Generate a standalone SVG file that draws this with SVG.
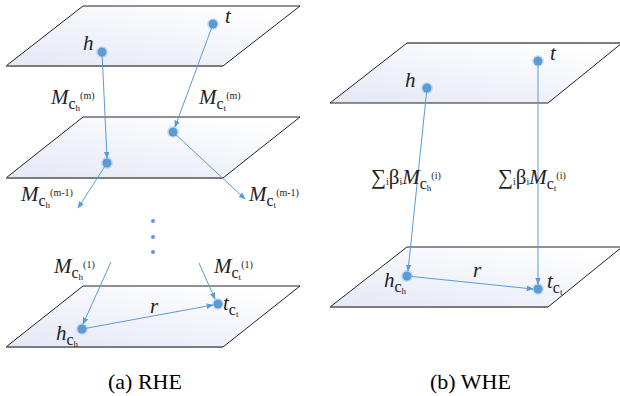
<svg xmlns="http://www.w3.org/2000/svg" width="620" height="396" viewBox="0 0 620 396">
<style>
.plane{stroke:#222;stroke-width:1;fill:url(#pg)}
.edge{stroke:#777;stroke-width:1.5}
.dot{fill:#5b9bd5}
.halo{fill:#5b9bd5;opacity:0.25}
.arr{stroke:#5b9bd5;stroke-width:1;fill:none;marker-end:url(#ah)}
text{font-family:"Liberation Serif","Times New Roman",serif;fill:#222}
.it{font-style:italic}
.big{font-size:21px}
.sub{font-size:16px}
.ss{font-size:9px}
.sup{font-size:10px}
.cap{font-size:22px;fill:#000}
</style>
<defs>
<linearGradient id="pg" x1="0" y1="1" x2="0.8" y2="0">
<stop offset="0" stop-color="#e4e8f6"/>
<stop offset="1" stop-color="#ffffff"/>
</linearGradient>
<marker id="ah" viewBox="0 0 10 10" refX="9" refY="5" markerWidth="7" markerHeight="7" orient="auto" markerUnits="userSpaceOnUse">
<path d="M0,1 L10,5 L0,9 Z" fill="#5b9bd5"/>
</marker>
</defs>

<g id="planeL1"><polygon class="plane" points="83,6 300,6 223,66 6,66"/><line class="edge" x1="6" y1="66" x2="223" y2="66"/></g>
<g id="planeL2"><polygon class="plane" points="83,117 300,117 223,178 6,178"/><line class="edge" x1="6" y1="178" x2="223" y2="178"/></g>
<g id="planeL3"><polygon class="plane" points="83,286 300,286 223,347 6,347"/><line class="edge" x1="6" y1="347" x2="223" y2="347"/></g>
<g id="planeR1"><polygon class="plane" points="407,43 622,43 548,103 330,103"/><line class="edge" x1="407" y1="43" x2="622" y2="43"/></g>
<g id="planeR2"><polygon class="plane" points="407,247 622,247 548,307 330,307"/><line class="edge" x1="330" y1="307" x2="548" y2="307"/></g>

<g id="connectors">
<line class="arr" x1="102" y1="52" x2="107" y2="158"/>
<line class="arr" x1="213" y1="24" x2="175" y2="127"/>
<line class="arr" x1="107" y1="163" x2="78" y2="208"/>
<line class="arr" x1="173" y1="132" x2="245" y2="199"/>
<line class="arr" x1="111" y1="262" x2="83" y2="324"/>
<line class="arr" x1="199" y1="263" x2="215" y2="299"/>
<line class="arr" x1="82" y1="329" x2="213" y2="305"/>
<line class="arr" x1="427" y1="88" x2="408" y2="271"/>
<line class="arr" x1="538" y1="61" x2="538" y2="284"/>
<line class="arr" x1="407" y1="276" x2="533" y2="289"/>
</g>

<g id="dotsL">
<circle class="halo" cx="102" cy="52" r="6"/><circle class="dot" cx="102" cy="52" r="4.5"/>
<circle class="halo" cx="213" cy="24" r="6"/><circle class="dot" cx="213" cy="24" r="4.5"/>
<circle class="halo" cx="173" cy="132" r="6"/><circle class="dot" cx="173" cy="132" r="4.5"/>
<circle class="halo" cx="107" cy="163" r="6"/><circle class="dot" cx="107" cy="163" r="4.5"/>
<circle class="halo" cx="82" cy="329" r="6"/><circle class="dot" cx="82" cy="329" r="4.5"/>
<circle class="halo" cx="218" cy="304" r="6"/><circle class="dot" cx="218" cy="304" r="4.5"/>
<circle class="dot" cx="153" cy="221" r="2"/>
<circle class="dot" cx="153" cy="237" r="2"/>
<circle class="dot" cx="153" cy="252" r="2"/>
</g>
<g id="dotsR">
<circle class="halo" cx="427" cy="88" r="6"/><circle class="dot" cx="427" cy="88" r="4.5"/>
<circle class="halo" cx="538" cy="61" r="6"/><circle class="dot" cx="538" cy="61" r="4.5"/>
<circle class="halo" cx="407" cy="276" r="6"/><circle class="dot" cx="407" cy="276" r="4.5"/>
<circle class="halo" cx="538" cy="289" r="6"/><circle class="dot" cx="538" cy="289" r="4.5"/>
</g>

<g id="labelsL">
<text class="it big" x="83" y="50">h</text>
<text class="it big" x="225" y="23">t</text>
<text x="51" y="104"><tspan class="it big">M</tspan><tspan class="sub" dy="5">c</tspan><tspan class="ss" dy="2">h</tspan><tspan class="sup" dy="-12">(m)</tspan></text>
<text x="199" y="104"><tspan class="it big">M</tspan><tspan class="sub" dy="5">c</tspan><tspan class="ss" dy="2">t</tspan><tspan class="sup" dy="-12">(m)</tspan></text>
<text x="21" y="201"><tspan class="it big">M</tspan><tspan class="sub" dy="5">c</tspan><tspan class="ss" dy="2">h</tspan><tspan class="sup" dy="-12">(m-1)</tspan></text>
<text x="249" y="201"><tspan class="it big">M</tspan><tspan class="sub" dy="5">c</tspan><tspan class="ss" dy="2">t</tspan><tspan class="sup" dy="-12">(m-1)</tspan></text>
<text x="54" y="273"><tspan class="it big">M</tspan><tspan class="sub" dy="5">c</tspan><tspan class="ss" dy="2">h</tspan><tspan class="sup" dy="-12">(1)</tspan></text>
<text x="214" y="273"><tspan class="it big">M</tspan><tspan class="sub" dy="5">c</tspan><tspan class="ss" dy="2">t</tspan><tspan class="sup" dy="-12">(1)</tspan></text>
<text class="it big" x="150" y="313">r</text>
<text x="223" y="310"><tspan class="it big">t</tspan><tspan class="sub" dy="5">c</tspan><tspan class="ss" dy="2">t</tspan></text>
<text x="56" y="340"><tspan class="it big">h</tspan><tspan class="sub" dy="5">c</tspan><tspan class="ss" dy="2">h</tspan></text>
</g>

<g id="labelsR">
<text class="it big" x="405" y="87">h</text>
<text class="it big" x="550" y="60">t</text>
<text x="371" y="184"><tspan class="big">∑</tspan><tspan class="sup" dy="1">i</tspan><tspan class="big" dy="-1">β</tspan><tspan class="sup" dy="1">i</tspan><tspan class="it big" dy="-1">M</tspan><tspan class="sub" dy="5">c</tspan><tspan class="ss" dy="2">h</tspan><tspan class="sup" dy="-12">(i)</tspan></text>
<text x="498" y="184"><tspan class="big">∑</tspan><tspan class="sup" dy="1">i</tspan><tspan class="big" dy="-1">β</tspan><tspan class="sup" dy="1">i</tspan><tspan class="it big" dy="-1">M</tspan><tspan class="sub" dy="5">c</tspan><tspan class="ss" dy="2">t</tspan><tspan class="sup" dy="-12">(i)</tspan></text>
<text class="it big" x="473" y="277">r</text>
<text x="384" y="287"><tspan class="it big">h</tspan><tspan class="sub" dy="5">c</tspan><tspan class="ss" dy="2">h</tspan></text>
<text x="547" y="288"><tspan class="it big">t</tspan><tspan class="sub" dy="5">c</tspan><tspan class="ss" dy="2">t</tspan></text>
</g>

<g id="captions">
<text class="cap" x="108" y="389">(a) RHE</text>
<text class="cap" x="430" y="389">(b) WHE</text>
</g>
</svg>
